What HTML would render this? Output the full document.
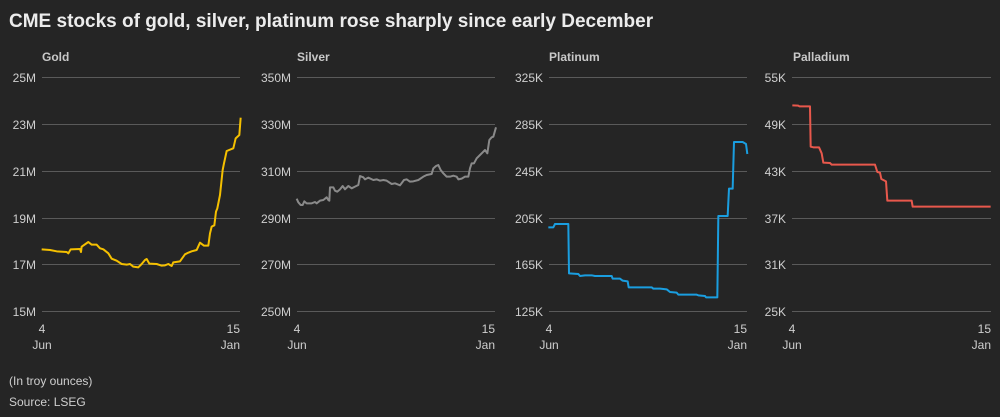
<!DOCTYPE html>
<html><head><meta charset="utf-8"><style>
html,body{margin:0;padding:0;background:#252525;}
svg{display:block;font-family:"Liberation Sans",sans-serif;}
.t{fill:#cfcfcf;font-size:12px;}
.h{fill:#c8c8c8;font-size:12px;font-weight:bold;}
.g{stroke:#5a5a5a;stroke-width:1;}
</style></head><body>
<svg width="1000" height="417" viewBox="0 0 1000 417">
<rect width="1000" height="417" fill="#252525"/>
<text x="9" y="27" fill="#ececec" font-size="19" font-weight="bold">CME stocks of gold, silver, platinum rose sharply since early December</text>

<!-- Gold -->
<text class="h" x="42" y="61">Gold</text>
<g class="g">
<line x1="42" x2="240" y1="77.5" y2="77.5"/><line x1="42" x2="240" y1="124.5" y2="124.5"/><line x1="42" x2="240" y1="171.5" y2="171.5"/><line x1="42" x2="240" y1="218.5" y2="218.5"/><line x1="42" x2="240" y1="264.5" y2="264.5"/><line x1="42" x2="240" y1="311.5" y2="311.5"/></g>
<g class="t" text-anchor="end"><text x="36" y="82">25M</text><text x="36" y="129">23M</text><text x="36" y="176">21M</text><text x="36" y="223">19M</text><text x="36" y="269">17M</text><text x="36" y="316">15M</text></g>
<text class="t" x="42" y="333" text-anchor="middle">4</text><text class="t" x="42" y="349" text-anchor="middle">Jun</text>
<text class="t" x="240" y="333" text-anchor="end">15</text><text class="t" x="240" y="349" text-anchor="end">Jan</text>
<g transform="translate(0,40) scale(0.33333)"><polyline fill="none" stroke="#f5c000" stroke-width="6" stroke-linejoin="round" points="125,628 150,630 170,634 200,636 205,640 212,628 240,627 243,636 245,620 265,606 275,614 290,614 300,625 310,628 325,640 335,656 350,662 365,672 380,674 390,672 400,680 415,682 425,672 435,660 440,657 448,671 470,672 485,677 495,676 505,672 515,678 520,667 540,664 555,643 565,638 575,634 590,630 600,608 612,617 625,617 630,580 635,560 643,556 648,515 652,505 660,465 668,390 672,370 680,333 700,325 707,295 718,285 722,233"/></g>

<!-- Silver -->
<text class="h" x="297" y="61">Silver</text>
<g class="g">
<line x1="297" x2="495" y1="77.5" y2="77.5"/><line x1="297" x2="495" y1="124.5" y2="124.5"/><line x1="297" x2="495" y1="171.5" y2="171.5"/><line x1="297" x2="495" y1="218.5" y2="218.5"/><line x1="297" x2="495" y1="264.5" y2="264.5"/><line x1="297" x2="495" y1="311.5" y2="311.5"/></g>
<g class="t" text-anchor="end"><text x="291" y="82">350M</text><text x="291" y="129">330M</text><text x="291" y="176">310M</text><text x="291" y="223">290M</text><text x="291" y="269">270M</text><text x="291" y="316">250M</text></g>
<text class="t" x="297" y="333" text-anchor="middle">4</text><text class="t" x="297" y="349" text-anchor="middle">Jun</text>
<text class="t" x="495" y="333" text-anchor="end">15</text><text class="t" x="495" y="349" text-anchor="end">Jan</text>
<g transform="translate(250,40) scale(0.33333)"><polyline fill="none" stroke="#8a8a8a" stroke-width="6" stroke-linejoin="round" points="140,476 145,487 152,495 158,495 163,484 170,490 185,490 195,486 200,490 210,482 220,480 230,472 235,480 238,482 240,442 250,442 255,452 262,455 270,448 278,438 285,448 295,438 305,445 315,440 325,435 330,408 335,410 340,412 345,418 355,413 370,420 380,418 390,422 400,420 410,422 425,432 435,430 450,436 462,420 470,418 480,425 490,424 505,420 520,410 530,405 545,402 550,385 558,378 565,375 572,390 580,400 590,410 600,410 610,407 620,410 625,418 635,416 645,410 655,410 660,385 665,370 672,370 680,355 690,345 697,338 705,330 712,340 718,300 725,292 730,290 738,262"/></g>

<!-- Platinum -->
<text class="h" x="549" y="61">Platinum</text>
<g class="g">
<line x1="549" x2="747" y1="77.5" y2="77.5"/><line x1="549" x2="747" y1="124.5" y2="124.5"/><line x1="549" x2="747" y1="171.5" y2="171.5"/><line x1="549" x2="747" y1="218.5" y2="218.5"/><line x1="549" x2="747" y1="264.5" y2="264.5"/><line x1="549" x2="747" y1="311.5" y2="311.5"/></g>
<g class="t" text-anchor="end"><text x="543" y="82">325K</text><text x="543" y="129">285K</text><text x="543" y="176">245K</text><text x="543" y="223">205K</text><text x="543" y="269">165K</text><text x="543" y="316">125K</text></g>
<text class="t" x="549" y="333" text-anchor="middle">4</text><text class="t" x="549" y="349" text-anchor="middle">Jun</text>
<text class="t" x="747" y="333" text-anchor="end">15</text><text class="t" x="747" y="349" text-anchor="end">Jan</text>
<g transform="translate(500,40) scale(0.33333)"><polyline fill="none" stroke="#1a9ee0" stroke-width="6" stroke-linejoin="round" points="145,562 160,562 165,552 205,552 207,700 235,702 240,708 255,706 275,706 285,708 335,708 338,716 360,716 368,722 383,724 386,742 455,742 460,746 480,746 500,748 510,756 530,758 535,764 590,764 595,766 615,768 618,772 652,772 655,528 683,528 687,446 698,446 702,306 728,306 738,312 742,342"/></g>

<!-- Palladium -->
<text class="h" x="793" y="61">Palladium</text>
<g class="g">
<line x1="792" x2="991" y1="77.5" y2="77.5"/><line x1="792" x2="991" y1="124.5" y2="124.5"/><line x1="792" x2="991" y1="171.5" y2="171.5"/><line x1="792" x2="991" y1="218.5" y2="218.5"/><line x1="792" x2="991" y1="264.5" y2="264.5"/><line x1="792" x2="991" y1="311.5" y2="311.5"/></g>
<g class="t" text-anchor="end"><text x="786" y="82">55K</text><text x="786" y="129">49K</text><text x="786" y="176">43K</text><text x="786" y="223">37K</text><text x="786" y="269">31K</text><text x="786" y="316">25K</text></g>
<text class="t" x="792" y="333" text-anchor="middle">4</text><text class="t" x="792" y="349" text-anchor="middle">Jun</text>
<text class="t" x="991" y="333" text-anchor="end">15</text><text class="t" x="991" y="349" text-anchor="end">Jan</text>
<g transform="translate(740,40) scale(0.33333)"><polyline fill="none" stroke="#e8584c" stroke-width="6" stroke-linejoin="round" points="157,196 175,197 178,199 210,199 212,320 220,322 237,322 245,340 250,368 270,369 275,374 405,374 412,396 420,398 424,417 438,424 442,482 515,482 518,500 752,500"/></g>

<text class="t" x="9" y="385" font-size="11">(In troy ounces)</text>
<text class="t" x="9" y="406" font-size="11">Source: LSEG</text>
</svg>
</body></html>
